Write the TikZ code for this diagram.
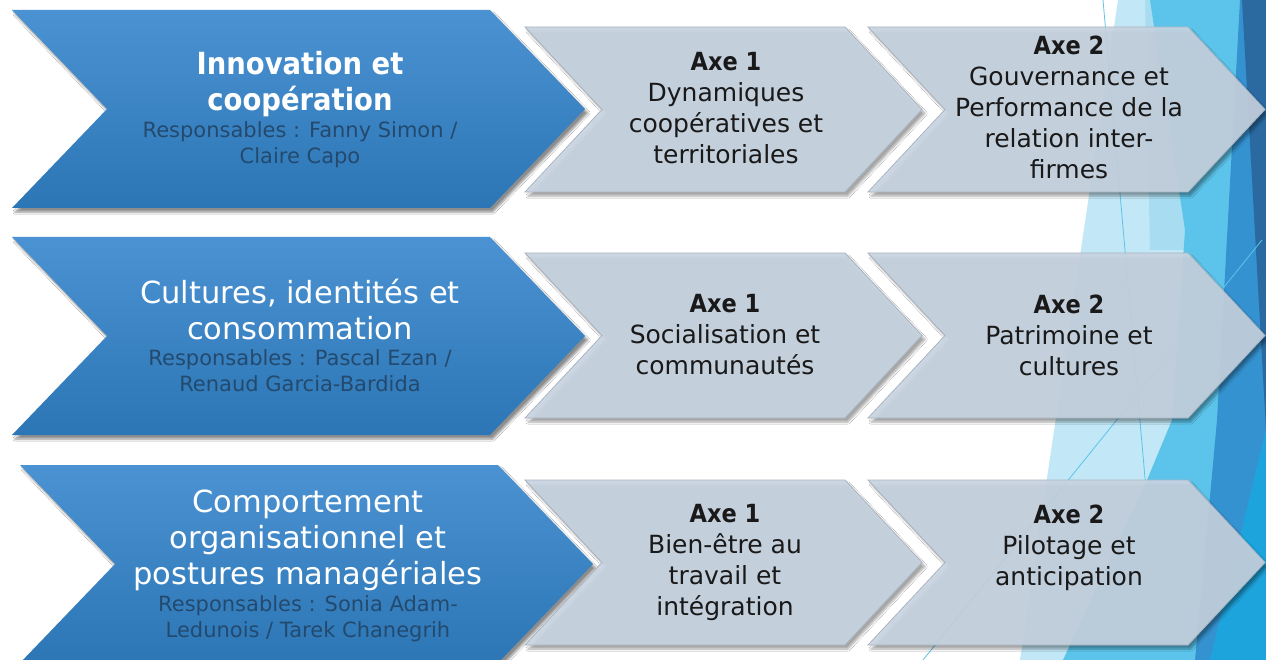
\documentclass[tikz,border=0pt]{standalone}
\usepackage{fontspec}
\setmainfont{DejaVu Sans}
\newfontfamily\fbold[FakeStretch=0.9]{DejaVu Sans}
\usetikzlibrary{shadows.blur}
\definecolor{blueTop}{HTML}{4B92D2}
\definecolor{blueBot}{HTML}{2C76B6}
\definecolor{grayFill}{HTML}{C8D4E2}
\definecolor{grayLine}{HTML}{A9B4C0}
\definecolor{respCol}{HTML}{234A6E}
\definecolor{bgLight}{HTML}{C2E7F6}
\definecolor{bgLightMid}{HTML}{A8DDF1}
\definecolor{bgCyan}{HTML}{5CC4EA}
\definecolor{bgMid}{HTML}{3592D0}
\definecolor{bgDark}{HTML}{2A6AA0}
\definecolor{bgBright}{HTML}{1EA4DC}
\newcommand\chevpath[6]{%
  \path[#1] (#2,#3) -- ({#4-#6},#3) -- (#4,{(#3+#5)/2}) -- ({#4-#6},#5)
    -- (#2,#5) -- ({#2+#6},{(#3+#5)/2}) -- cycle;}
\newcommand\axehead[1]{{\fbold\bfseries Axe #1}}
\tikzset{
  bluechev/.style={top color=blueTop, bottom color=blueBot, draw=none,
    blur shadow={shadow xshift=3pt, shadow yshift=-4pt, shadow blur steps=6, shadow opacity=45}},
  graychev/.style={fill=grayFill, fill opacity=0.9, draw=grayLine, line width=0.8pt,
    blur shadow={shadow xshift=3pt, shadow yshift=-4pt, shadow blur steps=6, shadow opacity=35}},
  titletxt/.style={align=center, text=white, inner sep=0pt, font=\fontsize{30.5}{36}\selectfont},
  resptxt/.style={align=center, text=respCol, inner sep=0pt, font=\fontsize{21}{26}\selectfont},
  axetxt/.style={align=center, text=black!90, inner sep=0pt, font=\fontsize{25}{31}\selectfont},
  bgline/.style={draw=bgCyan, line width=0.8pt}
}
\begin{document}
\begin{tikzpicture}[x=1pt,y=-1pt]
\useasboundingbox (0,0) rectangle (1266,660);
\fill[white] (0,0) rectangle (1266,660);
% background facets
\fill[bgLight] (1118,0) -- (1266,0) -- (1266,660) -- (1020,660) -- cycle;
\fill[bgLightMid] (1145,0) -- (1175,0) -- (1190,250) -- (1150,250) -- cycle;
\fill[bgCyan] (1150,0) -- (1266,0) -- (1266,660) -- (1063,660) -- (1147,480) -- (1172,420) -- (1185,230) -- cycle;
\fill[bgMid] (1240,0) -- (1266,0) -- (1266,660) -- (1195,660) -- (1217,420) -- cycle;
\fill[bgDark] (1242,0) -- (1266,0) -- (1266,430) -- cycle;
\fill[bgBright] (1266,430) -- (1266,660) -- (1210,660) -- cycle;
\path[bgline] (1103,0) -- (1161,660);
\path[bgline] (1262,240) -- (923,660);
% row 1
\chevpath{bluechev}{12}{10}{585}{208}{95}
\chevpath{graychev}{525}{27}{922}{192}{77}
\chevpath{graychev}{868}{27}{1265}{192}{77}
% row 2
\chevpath{bluechev}{12}{237}{585}{435}{95}
\chevpath{graychev}{525}{253}{922}{418}{77}
\chevpath{graychev}{868}{253}{1265}{418}{77}
% row 3
\chevpath{bluechev}{20}{465}{593}{663}{95}
\chevpath{graychev}{525}{480}{922}{645}{77}
\chevpath{graychev}{868}{480}{1265}{645}{77}
% texts
\node[titletxt, font=\fontsize{30.5}{36}\fbold\bfseries] (t1) at (300,84) {Innovation et\\coopération};
\node[resptxt] (r1) at (300,145) {Responsables : Fanny Simon /\\Claire Capo};
\node[titletxt] (t2) at (300,310) {Cultures, identités et\\consommation};
\node[resptxt] (r2) at (300,371) {Responsables : Pascal Ezan /\\Renaud Garcia-Bardida};
\node[titletxt] (t3) at (308,540) {Comportement\\organisationnel et\\postures managériales};
\node[resptxt] (r3) at (308,619) {Responsables : Sonia Adam-\\Ledunois / Tarek Chanegrih};
\node[axetxt] (a11) at (726,108) {\axehead{1}\\Dynamiques\\coopératives et\\territoriales};
\node[axetxt] (a12) at (1069,107) {\axehead{2}\\Gouvernance et\\Performance de la\\relation inter-\\firmes};
\node[axetxt] (a21) at (725,335) {\axehead{1}\\Socialisation et\\communautés};
\node[axetxt] (a22) at (1069,335) {\axehead{2}\\Patrimoine et\\cultures};
\node[axetxt] (a31) at (725,562) {\axehead{1}\\Bien-être au\\travail et\\intégration};
\node[axetxt] (a32) at (1069,548) {\axehead{2}\\Pilotage et\\anticipation};
\end{tikzpicture}
\end{document}
